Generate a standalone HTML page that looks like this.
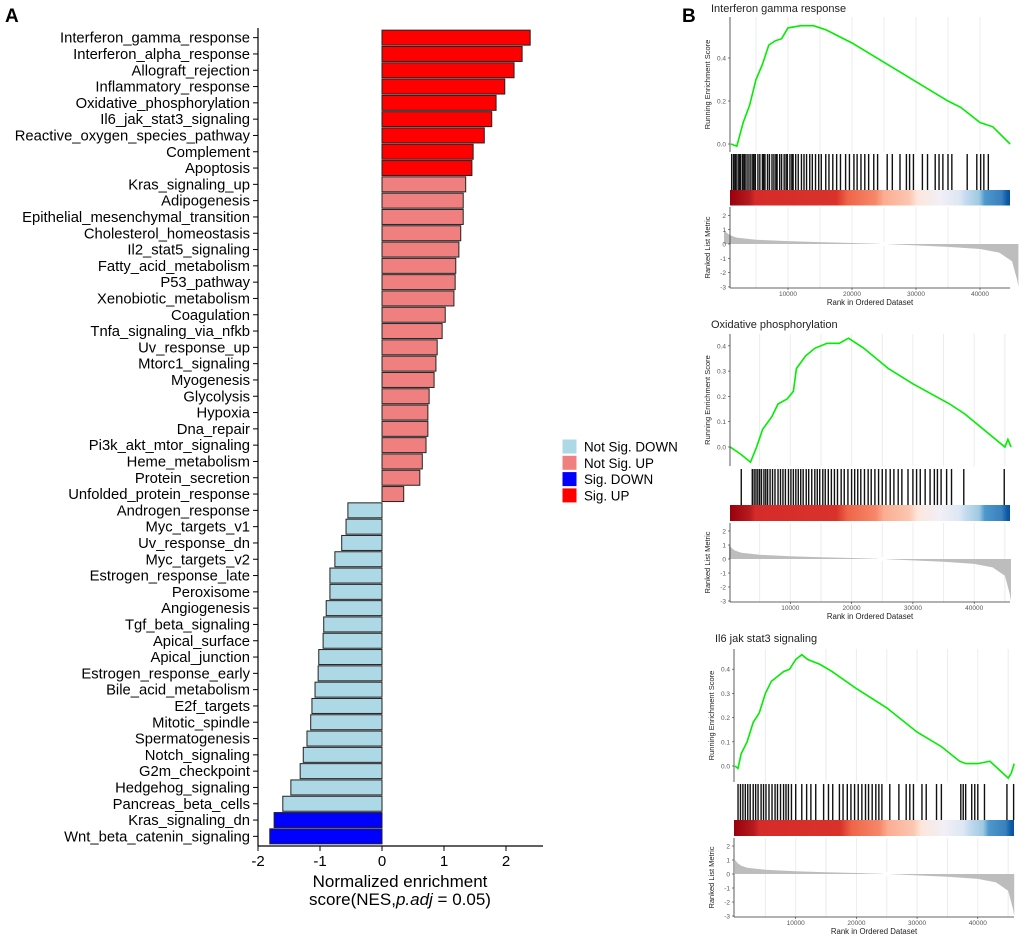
<!DOCTYPE html>
<html><head><meta charset="utf-8">
<style>
html,body{margin:0;padding:0;background:#fff;}
svg{display:block;font-family:"Liberation Sans",sans-serif;}
</style></head>
<body>
<svg id="fig" width="1020" height="940" viewBox="0 0 1020 940" xmlns="http://www.w3.org/2000/svg">
<text x="5" y="22" font-size="19" font-weight="bold">A</text>
<text x="682" y="22" font-size="19" font-weight="bold">B</text>
<g id="bars"></g>
<g id="legend"></g>
<g id="gsea"></g>
</svg>
<script>
const categories = ["Interferon_gamma_response","Interferon_alpha_response","Allograft_rejection","Inflammatory_response","Oxidative_phosphorylation","Il6_jak_stat3_signaling","Reactive_oxygen_species_pathway","Complement","Apoptosis","Kras_signaling_up","Adipogenesis","Epithelial_mesenchymal_transition","Cholesterol_homeostasis","Il2_stat5_signaling","Fatty_acid_metabolism","P53_pathway","Xenobiotic_metabolism","Coagulation","Tnfa_signaling_via_nfkb","Uv_response_up","Mtorc1_signaling","Myogenesis","Glycolysis","Hypoxia","Dna_repair","Pi3k_akt_mtor_signaling","Heme_metabolism","Protein_secretion","Unfolded_protein_response","Androgen_response","Myc_targets_v1","Uv_response_dn","Myc_targets_v2","Estrogen_response_late","Peroxisome","Angiogenesis","Tgf_beta_signaling","Apical_surface","Apical_junction","Estrogen_response_early","Bile_acid_metabolism","E2f_targets","Mitotic_spindle","Spermatogenesis","Notch_signaling","G2m_checkpoint","Hedgehog_signaling","Pancreas_beta_cells","Kras_signaling_dn","Wnt_beta_catenin_signaling"];
const nesValues = [2.39,2.26,2.13,1.98,1.84,1.77,1.65,1.47,1.45,1.35,1.31,1.31,1.27,1.24,1.19,1.18,1.16,1.02,0.97,0.89,0.87,0.84,0.76,0.74,0.74,0.71,0.65,0.61,0.35,-0.55,-0.58,-0.65,-0.76,-0.84,-0.84,-0.9,-0.94,-0.95,-1.02,-1.03,-1.08,-1.13,-1.15,-1.21,-1.27,-1.32,-1.47,-1.6,-1.74,-1.81];
const groups = ["Sig. UP","Sig. UP","Sig. UP","Sig. UP","Sig. UP","Sig. UP","Sig. UP","Sig. UP","Sig. UP","Not Sig. UP","Not Sig. UP","Not Sig. UP","Not Sig. UP","Not Sig. UP","Not Sig. UP","Not Sig. UP","Not Sig. UP","Not Sig. UP","Not Sig. UP","Not Sig. UP","Not Sig. UP","Not Sig. UP","Not Sig. UP","Not Sig. UP","Not Sig. UP","Not Sig. UP","Not Sig. UP","Not Sig. UP","Not Sig. UP","Not Sig. DOWN","Not Sig. DOWN","Not Sig. DOWN","Not Sig. DOWN","Not Sig. DOWN","Not Sig. DOWN","Not Sig. DOWN","Not Sig. DOWN","Not Sig. DOWN","Not Sig. DOWN","Not Sig. DOWN","Not Sig. DOWN","Not Sig. DOWN","Not Sig. DOWN","Not Sig. DOWN","Not Sig. DOWN","Not Sig. DOWN","Not Sig. DOWN","Not Sig. DOWN","Sig. DOWN","Sig. DOWN"];
const legendLabels = ["Not Sig. DOWN","Not Sig. UP","Sig. DOWN","Sig. UP"];
const xTicks = [-2,-1,0,1,2];

// GSEA data (rank in thousands)
const es1Rank = [1.1,2,3,4,5,6,7,8,9,10,12,14,16,20,25,30,35,37,40,42,44.7];
const es1Val = [0,-0.01,0.1,0.18,0.3,0.37,0.46,0.48,0.49,0.54,0.55,0.55,0.53,0.47,0.38,0.29,0.2,0.17,0.1,0.08,0];
const hits1 = [1.2,1.5,1.7,1.9,2.2,2.4,2.6,2.9,3.1,3.3,3.6,3.9,4.2,4.5,4.7,4.9,5.3,5.6,6.0,6.2,6.4,6.8,7.1,7.5,7.8,8.1,8.3,8.7,9.0,9.4,9.7,9.9,10.3,10.6,10.8,11.2,11.6,12.1,12.5,12.9,13.4,13.8,14.3,14.8,15.2,15.9,16.4,17.0,17.6,18.2,19.0,19.6,20.3,20.8,21.4,22.0,22.6,23.4,24.0,25.5,26.3,27.5,28.5,29.0,29.6,31.0,31.8,33.0,33.6,34.2,35.0,35.6,38.0,39.5,40.1,40.6,41.3];
const es2Rank = [0.2,2,3.5,4.5,5.5,7,8,9.5,10.5,11,12.5,14,16,18,19.5,22,26,30,33,36,38.5,45,45.5,46];
const es2Val = [0,-0.03,-0.06,0,0.07,0.12,0.17,0.19,0.22,0.31,0.36,0.39,0.41,0.41,0.43,0.39,0.31,0.25,0.21,0.17,0.13,0,0.03,0];
const hits2 = [2.0,3.8,4.1,4.4,4.7,5.0,5.3,5.7,6.0,6.3,6.7,7.1,7.5,8.0,8.4,8.8,9.2,9.7,10.1,10.5,10.9,11.3,11.7,12.1,12.6,13.0,13.5,14.0,14.4,14.8,15.3,15.7,16.2,16.7,17.2,17.7,18.3,18.8,19.4,20.0,20.5,21.0,21.5,22.1,22.7,23.2,23.8,24.4,25.0,25.6,26.3,26.9,27.6,28.2,29.2,30.0,30.6,31.2,32.0,32.8,33.5,34.0,34.6,35.5,36.3,38.3,44.9];
const es3Rank = [0,0.5,1,2,3,4,5,6,7,8,9,10,11,12,14,16,20,25,30,34,37,38,40,42,45,45.5,46];
const es3Val = [0,-0.01,0.05,0.1,0.18,0.22,0.3,0.35,0.37,0.39,0.4,0.44,0.46,0.44,0.42,0.39,0.32,0.24,0.14,0.08,0.02,0.01,0.01,0.02,-0.05,-0.03,0.01];
const hits3 = [0.5,0.9,1.3,1.7,2.1,2.5,3.0,3.4,3.8,4.3,4.7,5.1,5.6,6.1,6.6,7.0,7.5,8.0,8.4,8.8,9.3,10.0,11.0,11.8,12.5,13.3,14.6,15.4,16.1,17.2,17.8,18.5,19.1,19.7,20.3,20.9,21.5,22.0,22.6,23.2,23.7,24.2,25.5,27.0,28.2,28.8,29.4,30.8,31.5,33.2,34.0,37.2,37.6,38.0,39.0,39.5,40.0,41.1,44.8,45.9];
const metricRank = [0,0.5,1,2,5,10,15,20,24,26,30,35,40,43,45,45.8,46];
const metricVal = [1.0,0.75,0.6,0.45,0.3,0.2,0.13,0.07,0.02,-0.02,-0.1,-0.2,-0.35,-0.6,-1.2,-2.5,-3];
const esTicks1 = [0,0.2,0.4];
const esTicks2 = [0,0.1,0.2,0.3,0.4];
const esTicks3 = [0,0.1,0.2,0.3,0.4];
const rankTicks = [10000,20000,30000,40000];
const metricTicks = [2,1,0,-1,-2,-3];

const NS="http://www.w3.org/2000/svg";
function mk(tag, attrs, parent, txt){const e=document.createElementNS(NS,tag);for(const k in attrs)e.setAttribute(k,attrs[k]);if(txt!==undefined)e.textContent=txt;parent.appendChild(e);return e;}

// ---- Bar chart ----
const colorMap={"Sig. UP":"#ff0000","Not Sig. UP":"#f08080","Sig. DOWN":"#0000ff","Not Sig. DOWN":"#add8e6"};
const bars=document.getElementById('bars');
const x0=382, xUnit=62, yTop=29.5, step=16.3, bh=15;
const xs=v=>x0+v*xUnit;
const yc=i=>yTop+step*i+step/2;
categories.forEach((c,i)=>{
  const v=nesValues[i];
  const r=mk('rect',{x:Math.min(xs(0),xs(v)),y:yc(i)-bh/2,width:Math.abs(xs(v)-xs(0)),height:bh,fill:colorMap[groups[i]],stroke:"#222","stroke-width":1},bars);
  
  
  const t=mk('text',{x:250,y:yc(i)+5,"text-anchor":"end","font-size":14.8,fill:"#000"},bars,c);
  
  
  mk('line',{x1:253,x2:258,y1:yc(i),y2:yc(i),stroke:"#000","stroke-width":1},bars);
});
mk('line',{x1:258,x2:258,y1:28,y2:846,stroke:"#000","stroke-width":1.2},bars);
mk('line',{x1:258,x2:543,y1:846,y2:846,stroke:"#000","stroke-width":1.2},bars);
xTicks.forEach(t=>{
  mk('line',{x1:xs(t),x2:xs(t),y1:846,y2:851,stroke:"#000"},bars);
  const tl=mk('text',{x:xs(t),y:866,"text-anchor":"middle","font-size":15},bars,String(t));
  
  
});
mk('text',{x:400,y:887,"text-anchor":"middle","font-size":17,},bars,"Normalized enrichment");
const t2=mk('text',{x:400,y:905,"text-anchor":"middle","font-size":17,},bars);
mk('tspan',{},t2,"score(NES,");mk('tspan',{"font-style":"italic"},t2,"p.adj");mk('tspan',{},t2," = 0.05)");

// legend
const lg=document.getElementById('legend');
legendLabels.forEach((l,i)=>{
  const y=439+i*16.3;
  const r=mk('rect',{x:562,y:y,width:15,height:15,fill:colorMap[l],stroke:"#fff","stroke-width":1},lg);
  
  
  const t=mk('text',{x:584,y:y+12.5,"font-size":13.4},lg,l);
  
  
});

// ---- GSEA panels ----
const g=document.getElementById('gsea');
const defs=mk('defs',{},g);
const grad=mk('linearGradient',{id:"cb",x1:0,x2:1,y1:0,y2:0},defs);
[[0,"#99000d"],[0.07,"#b51b1e"],[0.09,"#d52b2a"],[0.38,"#d9322b"],[0.42,"#ef6548"],[0.52,"#f7876a"],[0.55,"#fbad92"],[0.64,"#fcc6b1"],[0.67,"#fde6dc"],[0.75,"#f2eff7"],[0.82,"#dde7f3"],[0.84,"#c6dbef"],[0.89,"#9ecae1"],[0.91,"#4d98cc"],[0.97,"#3a80bd"],[0.99,"#0b5aa5"],[1,"#08519c"]].forEach(s=>mk('stop',{offset:s[0],"stop-color":s[1]},grad));

function panel(o){
  const pg=mk('g',{},g);
  
  
  const X=r=>o.x0+r*o.kx; // r in thousands
  const Y=v=>o.esY0-v*o.esK;
  const M=v=>o.mY0-v*o.mK;
  const L=o.left, R=o.right;
  mk('text',{x:L-19,y:o.titleY,"font-size":11,fill:"#222"},pg,o.title);
  for(let r=5;r<=45;r+=5){const gx=X(r); if(gx>L&&gx<R){
    mk('line',{x1:gx,x2:gx,y1:o.esTop,y2:o.esBot,stroke:"#ececec","stroke-width":1},pg);
    mk('line',{x1:gx,x2:gx,y1:o.mTop,y2:o.mBot,stroke:"#ececec","stroke-width":1},pg);}}
  const pts=o.esRank.map((r,i)=>X(r).toFixed(1)+","+Y(o.esVal[i]).toFixed(1)).join(" ");
  const pl=mk('polyline',{points:pts,fill:"none",stroke:"#00ee00","stroke-width":1.6},pg);
  
  
  mk('line',{x1:L,x2:L,y1:o.esTop,y2:o.esBot,stroke:"#333","stroke-width":0.8},pg);
  o.esTicks.forEach(t=>{mk('text',{x:L-4,y:Y(t)+2.5,"text-anchor":"end","font-size":6.5,fill:"#555"},pg,t.toFixed(1));mk('line',{x1:L-2,x2:L,y1:Y(t),y2:Y(t),stroke:"#333","stroke-width":0.6},pg);});
  mk('text',{transform:`translate(${L-20},${(o.esTop+o.esBot)/2}) rotate(-90)`,"text-anchor":"middle","font-size":7.5,fill:"#222"},pg,"Running Enrichment Score");
  o.hits.forEach(h=>{const l=mk('line',{x1:X(h),x2:X(h),y1:o.hTop,y2:o.hBot,stroke:"#111","stroke-width":1.4},pg);
    
    });
  mk('rect',{x:L,y:o.hBot,width:R-L,height:o.cbH,fill:"url(#cb)",},pg);
  let d="M"+X(metricRank[0])+","+M(0);
  metricRank.forEach((r,i)=>{d+=" L"+X(r).toFixed(1)+","+M(metricVal[i]).toFixed(1);});
  d+=" L"+X(metricRank[metricRank.length-1])+","+M(0)+"Z";
  const ar=mk('path',{d:d,fill:"#bdbdbd"},pg);
  
  
  mk('rect',{x:X(24.3),y:M(0)-2,width:X(25.7)-X(24.3),height:4,fill:"#fff"},pg);
  mk('line',{x1:L,x2:L,y1:o.mTop,y2:o.mBot,stroke:"#333","stroke-width":0.8},pg);
  mk('line',{x1:L,x2:R,y1:o.mBot,y2:o.mBot,stroke:"#333","stroke-width":0.8},pg);
  metricTicks.forEach(t=>{mk('text',{x:L-4,y:M(t)+2.5,"text-anchor":"end","font-size":6.5,fill:"#555"},pg,String(t));mk('line',{x1:L-2,x2:L,y1:M(t),y2:M(t),stroke:"#333","stroke-width":0.6},pg);});
  mk('text',{transform:`translate(${L-20},${(o.mTop+o.mBot)/2}) rotate(-90)`,"text-anchor":"middle","font-size":7.5,fill:"#222"},pg,"Ranked List Metric");
  rankTicks.forEach(t=>{mk('text',{x:X(t/1000),y:o.mBot+8,"text-anchor":"middle","font-size":6.5,fill:"#555"},pg,String(t));mk('line',{x1:X(t/1000),x2:X(t/1000),y1:o.mBot,y2:o.mBot+2,stroke:"#333","stroke-width":0.6},pg);});
  mk('text',{x:(L+R)/2,y:o.mBot+17,"text-anchor":"middle","font-size":7.8,fill:"#222"},pg,"Rank in Ordered Dataset");
}
panel({name:"gsea-interferon-gamma",title:"Interferon gamma response",titleY:12,x0:724,kx:6.4,left:730,right:1010,esY0:144,esK:215,esTop:17,esBot:152,esRank:es1Rank,esVal:es1Val,esTicks:esTicks1,hits:hits1,hTop:154,hBot:190,cbH:15.5,mY0:244,mK:14.3,mTop:207,mBot:288});
panel({name:"gsea-oxidative-phosphorylation",title:"Oxidative phosphorylation",titleY:328,x0:729,kx:6.13,left:730,right:1010,esY0:447,esK:253,esTop:334,esBot:466,esRank:es2Rank,esVal:es2Val,esTicks:esTicks2,hits:hits2,hTop:469,hBot:505,cbH:16,mY0:559,mK:14,mTop:523,mBot:602});
panel({name:"gsea-il6-jak-stat3",title:"Il6 jak stat3 signaling",titleY:642,x0:735,kx:6.07,left:734,right:1014,esY0:766,esK:242,esTop:649,esBot:782,esRank:es3Rank,esVal:es3Val,esTicks:esTicks3,hits:hits3,hTop:784,hBot:820,cbH:16,mY0:874,mK:14,mTop:838,mBot:917});
</script>
</body></html>
